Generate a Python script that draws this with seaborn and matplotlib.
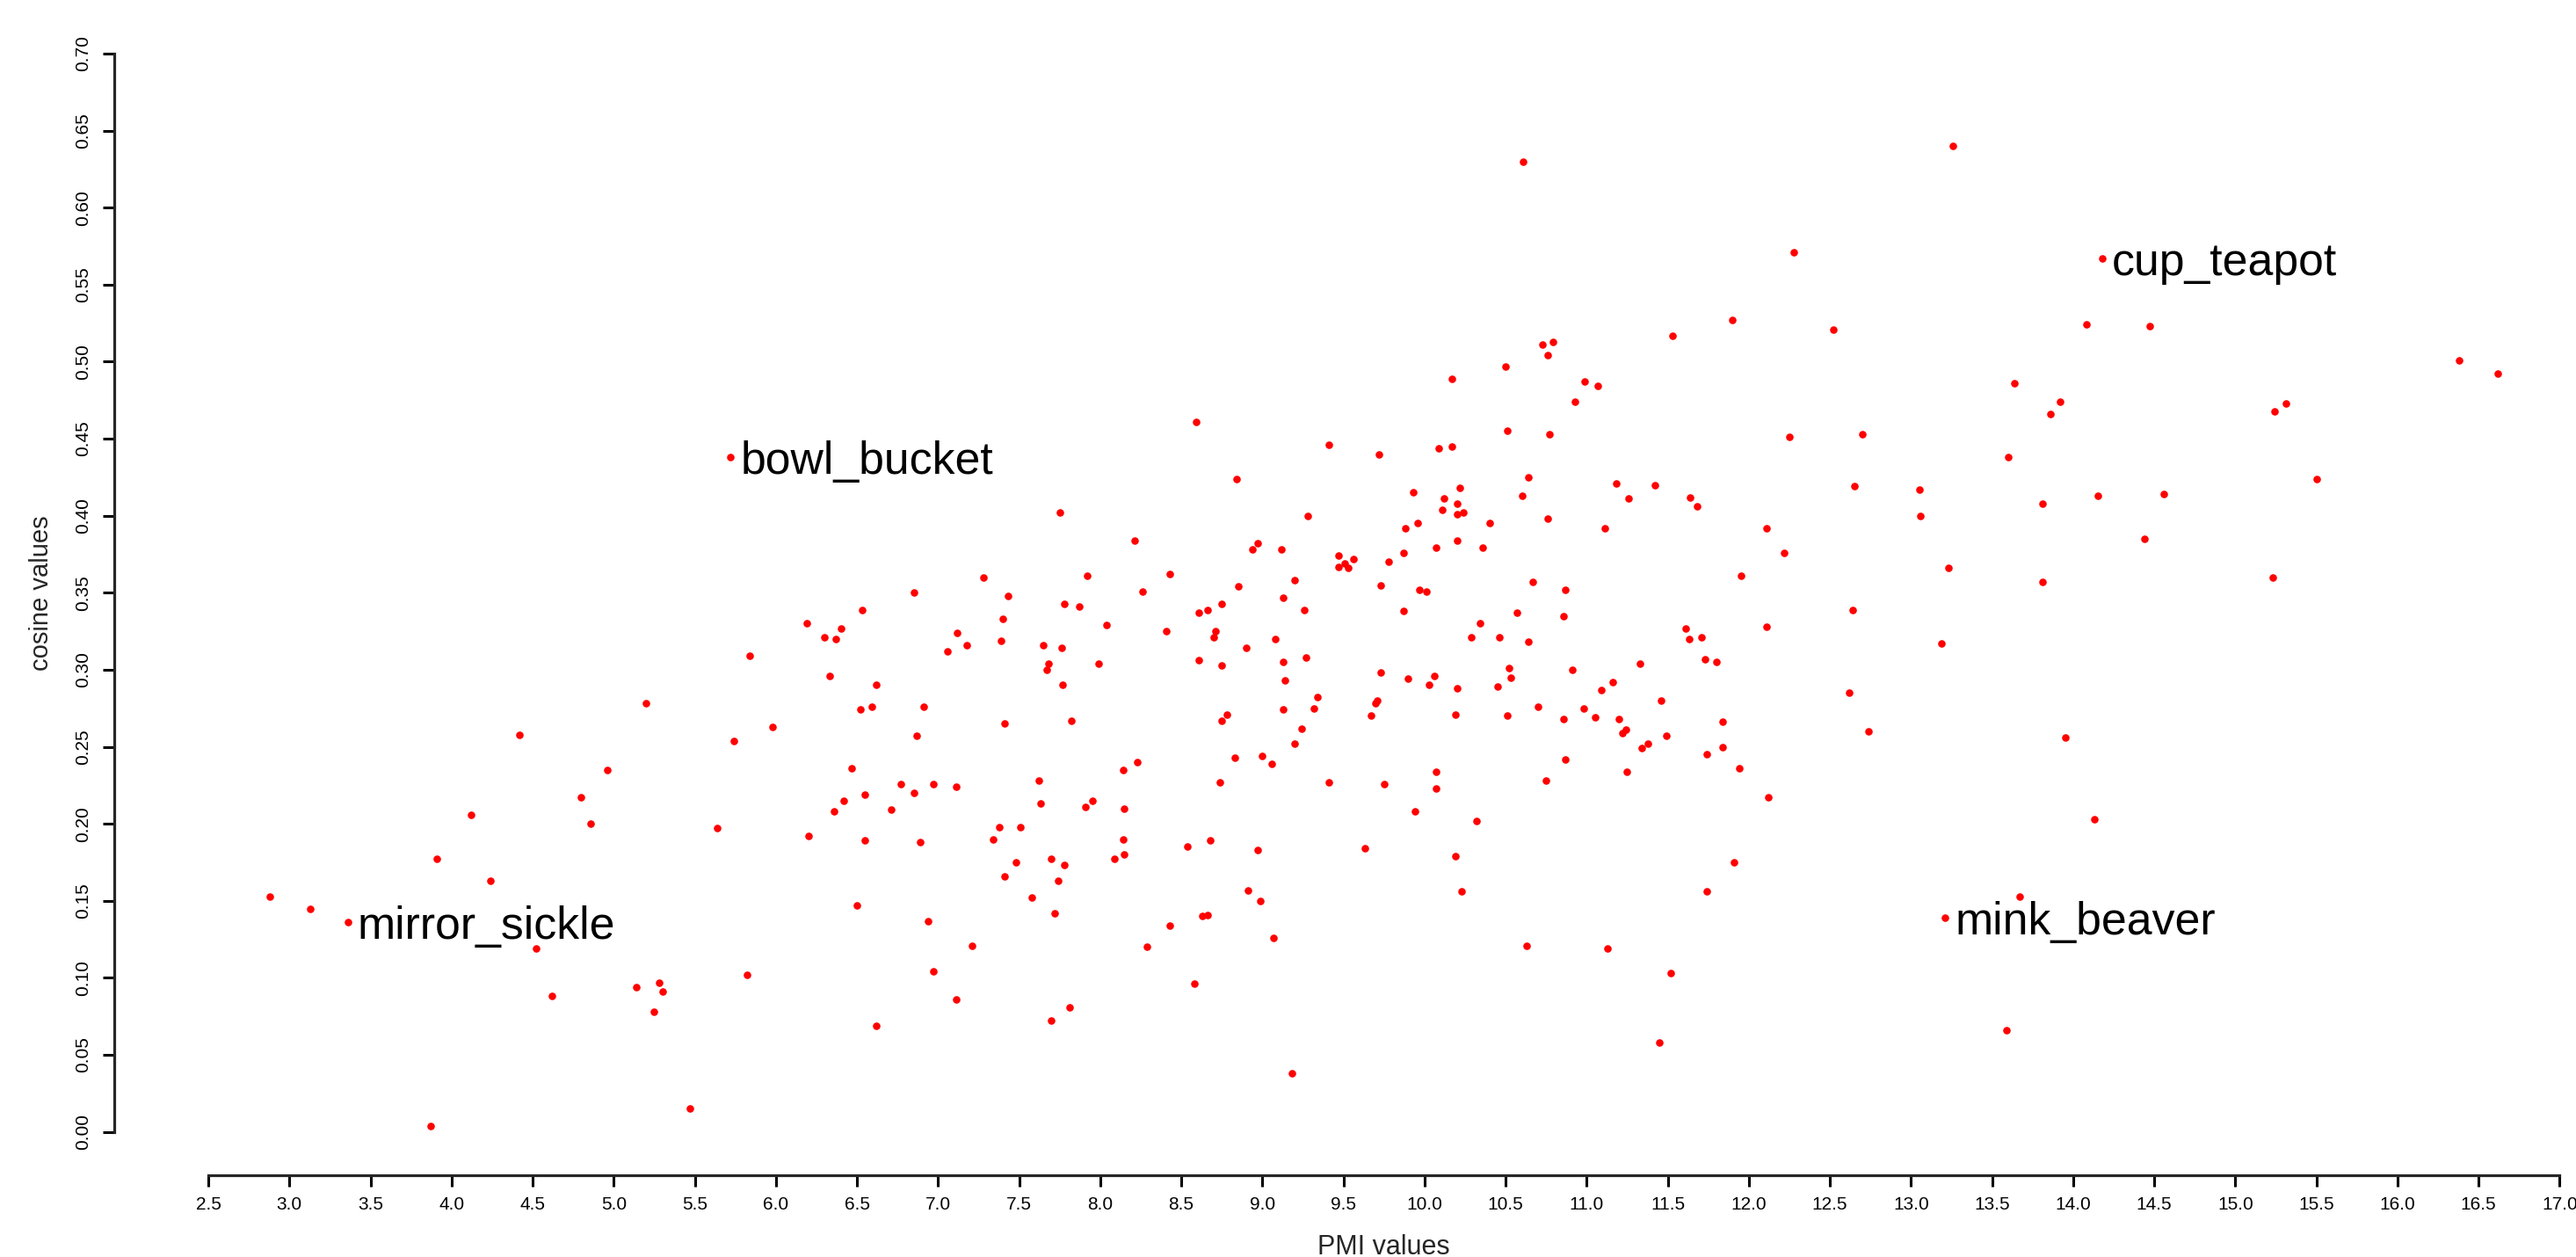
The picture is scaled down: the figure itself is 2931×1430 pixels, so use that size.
import matplotlib
matplotlib.use("Agg")
import matplotlib.pyplot as plt
import seaborn as sns
import numpy as np

# labelled word pairs are the first entries of the data below
label_words = ["mirror_sickle", "bowl_bucket", "cup_teapot", "mink_beaver"]

pmi = [
    3.36, 5.72, 14.18, 13.21,
    # left part
    5.84, 5.20, 5.98, 4.42, 5.74, 4.96, 4.80, 4.12, 4.86, 5.64, 3.91, 4.24,
    2.88, 3.13, 4.52, 4.62, 5.14, 5.28, 5.30, 5.25, 5.82, 5.47, 3.87,
    # 6 - 10, upper
    8.59, 9.41, 9.72, 8.84, 7.75, 9.28, 8.21, 8.97, 8.94, 9.12, 9.47, 9.56,
    9.47, 9.51, 9.53, 9.78, 7.28, 7.92, 8.43, 6.85, 7.43, 8.26, 8.85, 9.20,
    9.73, 6.53, 7.78, 7.87, 9.13, 8.75, 8.61, 8.66, 9.26, 6.19, 6.40, 6.30,
    6.37, 7.40, 8.04, 7.12, 7.18, 7.06, 7.39, 8.41, 8.71, 8.70, 9.08, 7.65,
    7.76, 8.90, 8.61, 8.75, 9.13, 9.27, 7.99, 7.68, 7.67, 6.33, 6.62, 7.77,
    9.14, 9.73, 9.34, 9.32, 9.71, 9.70, 9.67, 9.13, 6.52, 6.59, 6.91, 8.78,
    8.75, 7.41, 7.82, 6.87, 9.24, 9.20,
    # 6 - 10, lower
    6.47, 8.83, 9.00, 9.06, 8.14, 8.23, 6.77, 6.97, 7.11, 6.85, 6.55, 6.42,
    6.36, 6.71, 7.62, 7.63, 8.74, 9.41, 9.75, 7.91, 7.95, 8.15, 7.38, 7.51,
    6.20, 7.34, 6.55, 6.89, 8.14, 8.54, 8.68, 8.97, 9.63, 8.15, 8.09, 7.48,
    7.70, 7.78, 7.41, 7.74, 8.91, 8.99, 7.58, 6.50, 7.72, 6.94, 8.63, 8.66,
    8.43, 9.07, 7.21, 8.29, 6.97, 8.58, 7.11, 7.81, 7.70, 6.62, 9.18,
    # 10 - 13.4, upper
    10.61, 13.26, 12.28, 11.90, 11.53, 12.52, 10.73, 10.79, 10.76, 10.50,
    10.17, 10.99, 11.07, 10.93, 10.51, 10.77, 12.25, 12.70, 10.09, 10.17,
    10.64, 9.93, 10.22, 10.12, 10.20, 10.11, 10.20, 10.24, 10.60, 11.18,
    11.42, 11.26, 11.64, 11.68, 12.65, 13.05, 13.06, 9.88, 9.96, 10.40,
    10.76, 11.11, 12.11, 10.20, 10.07, 10.36, 9.87, 12.22, 13.23,
    # 10 - 13.4, lower
    11.95, 9.97, 10.01, 10.67, 10.87, 9.87, 10.57, 10.86, 12.64, 10.34,
    10.29, 10.46, 10.64, 11.61, 11.63, 11.71, 12.11, 13.19, 11.73, 11.80,
    11.33, 9.90, 10.06, 10.03, 10.20, 10.52, 10.53, 10.45, 10.91, 11.16,
    11.09, 12.62, 10.19, 10.51, 10.70, 10.98, 11.05, 10.86, 11.20, 11.46,
    11.22, 11.24, 11.49, 11.34, 11.38, 11.84, 11.84, 11.74, 12.74, 11.94,
    10.87, 11.25, 10.07, 10.07, 10.75, 12.12, 9.94, 10.32, 10.19, 11.91,
    10.23, 11.74, 10.63, 11.13, 11.52, 11.45,
    # right part
    14.08, 14.47, 16.38, 16.62, 13.64, 13.92, 13.86, 15.24, 15.31, 13.60,
    15.50, 13.81, 14.15, 14.56, 14.44, 13.81, 15.23, 13.95, 14.13, 13.67,
    13.59,
]

cosine = [
    0.136, 0.438, 0.567, 0.139,
    # left part
    0.309, 0.278, 0.263, 0.258, 0.254, 0.235, 0.217, 0.206, 0.200, 0.197, 0.177, 0.163,
    0.153, 0.145, 0.119, 0.088, 0.094, 0.097, 0.091, 0.078, 0.102, 0.015, 0.004,
    # 6 - 10, upper
    0.461, 0.446, 0.440, 0.424, 0.402, 0.400, 0.384, 0.382, 0.378, 0.378, 0.374, 0.372,
    0.367, 0.369, 0.366, 0.370, 0.360, 0.361, 0.362, 0.350, 0.348, 0.351, 0.354, 0.358,
    0.355, 0.339, 0.343, 0.341, 0.347, 0.343, 0.337, 0.339, 0.339, 0.330, 0.327, 0.321,
    0.320, 0.333, 0.329, 0.324, 0.316, 0.312, 0.319, 0.325, 0.325, 0.321, 0.320, 0.316,
    0.314, 0.314, 0.306, 0.303, 0.305, 0.308, 0.304, 0.304, 0.300, 0.296, 0.290, 0.290,
    0.293, 0.298, 0.282, 0.275, 0.280, 0.278, 0.270, 0.274, 0.274, 0.276, 0.276, 0.271,
    0.267, 0.265, 0.267, 0.257, 0.262, 0.252,
    # 6 - 10, lower
    0.236, 0.243, 0.244, 0.239, 0.235, 0.240, 0.226, 0.226, 0.224, 0.220, 0.219, 0.215,
    0.208, 0.209, 0.228, 0.213, 0.227, 0.227, 0.226, 0.211, 0.215, 0.210, 0.198, 0.198,
    0.192, 0.190, 0.189, 0.188, 0.190, 0.185, 0.189, 0.183, 0.184, 0.180, 0.177, 0.175,
    0.177, 0.173, 0.166, 0.163, 0.157, 0.150, 0.152, 0.147, 0.142, 0.137, 0.140, 0.141,
    0.134, 0.126, 0.121, 0.120, 0.104, 0.096, 0.086, 0.081, 0.072, 0.069, 0.038,
    # 10 - 13.4, upper
    0.630, 0.640, 0.571, 0.527, 0.517, 0.521, 0.511, 0.513, 0.504, 0.497,
    0.489, 0.487, 0.484, 0.474, 0.455, 0.453, 0.451, 0.453, 0.444, 0.445,
    0.425, 0.415, 0.418, 0.411, 0.408, 0.404, 0.401, 0.402, 0.413, 0.421,
    0.420, 0.411, 0.412, 0.406, 0.419, 0.417, 0.400, 0.392, 0.395, 0.395,
    0.398, 0.392, 0.392, 0.384, 0.379, 0.379, 0.376, 0.376, 0.366,
    # 10 - 13.4, lower
    0.361, 0.352, 0.351, 0.357, 0.352, 0.338, 0.337, 0.335, 0.339, 0.330,
    0.321, 0.321, 0.318, 0.327, 0.320, 0.321, 0.328, 0.317, 0.307, 0.305,
    0.304, 0.294, 0.296, 0.290, 0.288, 0.301, 0.295, 0.289, 0.300, 0.292,
    0.287, 0.285, 0.271, 0.270, 0.276, 0.275, 0.269, 0.268, 0.268, 0.280,
    0.259, 0.261, 0.257, 0.249, 0.252, 0.266, 0.250, 0.245, 0.260, 0.236,
    0.242, 0.234, 0.234, 0.223, 0.228, 0.217, 0.208, 0.202, 0.179, 0.175,
    0.156, 0.156, 0.121, 0.119, 0.103, 0.058,
    # right part
    0.524, 0.523, 0.501, 0.492, 0.486, 0.474, 0.466, 0.468, 0.473, 0.438,
    0.424, 0.408, 0.413, 0.414, 0.385, 0.357, 0.360, 0.256, 0.203, 0.153,
    0.066,
]

x_ticks = np.arange(2.5, 17.01, 0.5)
y_ticks = np.arange(0.0, 0.701, 0.05)

sns.set_style("ticks")
plt.rcParams["font.family"] = ["Liberation Sans", "DejaVu Sans"]

fig = plt.figure(figsize=(29.31, 14.30), dpi=100)
ax = fig.add_axes([0.04435, 0.06525, 0.9858, 0.92643])

sns.scatterplot(x=pmi, y=cosine, color="red", s=38, linewidth=0, ax=ax)

for i, word in enumerate(label_words):
    ax.annotate(word, (pmi[i], cosine[i]), xytext=(8, 0), textcoords="offset points",
                fontsize=37.3, va="center_baseline", ha="left", color="black")

ax.set_xlim(1.92, 17.58)
ax.set_ylim(-0.028, 0.728)
ax.set_xticks(x_ticks)
ax.set_xticklabels([f"{t:.1f}" for t in x_ticks])
ax.set_yticks(y_ticks)
ax.set_yticklabels([f"{t:.2f}" for t in y_ticks], rotation=90, va="center")

for side in ["top", "right"]:
    ax.spines[side].set_visible(False)
ax.spines["left"].set_bounds(0.0, 0.7)
ax.spines["bottom"].set_bounds(2.5, 17.0)
ax.spines["left"].set_linewidth(2.3)
ax.spines["bottom"].set_linewidth(2.3)

ax.tick_params(axis="both", length=9.4, width=2.2, labelsize=15, colors="black")
ax.tick_params(axis="x", pad=8)
ax.tick_params(axis="y", pad=9)

ax.set_xlabel("PMI values", fontsize=22)
ax.set_ylabel("cosine values", fontsize=21)
ax.xaxis.set_label_coords(0.5, -0.0505)
ax.yaxis.set_label_coords(-0.0238, 0.5)

fig.savefig("out.png", dpi=100, facecolor="white")
